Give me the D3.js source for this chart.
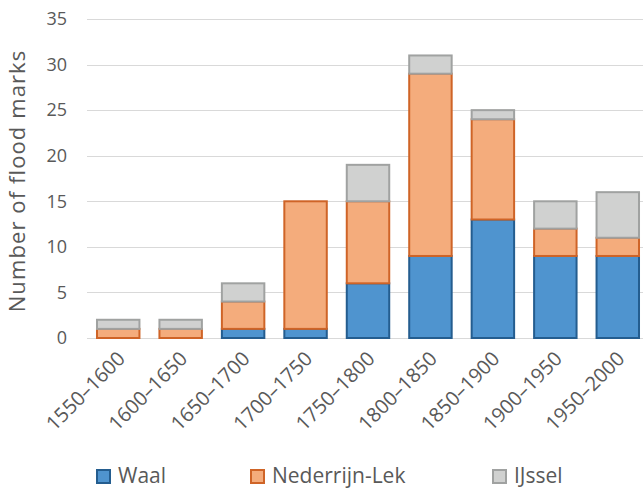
<!DOCTYPE html>
<html>
<head>
<meta charset="utf-8">
<script src="https://cdn.jsdelivr.net/npm/d3@7"></script>
<style>
  html, body { margin: 0; padding: 0; background: #fff; }
  svg text { font-family: "Open Sans", sans-serif; fill: #595959; }
</style>
</head>
<body>
<svg id="chart" width="643" height="488"></svg>
<script>
// Flood marks per 50-year period, by river branch
const periods = ["1550–1600", "1600–1650", "1650–1700", "1700–1750", "1750–1800",
                 "1800–1850", "1850–1900", "1900–1950", "1950–2000"];
const waal      = [0, 0, 1, 1, 6, 9, 13, 9, 9];
const nederrijn = [1, 1, 3, 14, 9, 20, 11, 3, 2];
const ijssel    = [1, 1, 2, 0, 4, 2, 1, 3, 5];
const seriesNames = ["Waal", "Nederrijn-Lek", "IJssel"];
const yTicks = [0, 5, 10, 15, 20, 25, 30, 35];

const fills   = ["#4f94cf", "#f4ac7c", "#d0d1d0"];
const strokes = ["#245d8f", "#cf6427", "#a0a2a1"];

const rows = periods.map((p, i) => ({
  period: p, "Waal": waal[i], "Nederrijn-Lek": nederrijn[i], "IJssel": ijssel[i]
}));

const svg = d3.select("#chart");

const x = d3.scaleBand().domain(periods).range([87, 649])
  .paddingInner(0.32).paddingOuter(0.16);
const y = d3.scaleLinear().domain([0, 35]).range([338, 19]);

// horizontal gridlines
svg.append("g").selectAll("line").data(yTicks).join("line")
  .attr("x1", 87).attr("x2", 643)
  .attr("y1", d => Math.round(y(d)) + 0.5).attr("y2", d => Math.round(y(d)) + 0.5)
  .attr("stroke", "#d9d9d9").attr("stroke-width", 1);

// y axis tick labels
const yAxis = d3.axisLeft(y).tickValues(yTicks).tickSize(0).tickPadding(0);
const gy = svg.append("g").attr("transform", "translate(67,0)").call(yAxis);
gy.select(".domain").remove();
gy.selectAll("text").attr("font-size", 18).attr("fill", "#595959")
  .style("font-family", "'Open Sans', sans-serif");

// stacked bars
const stack = d3.stack().keys(seriesNames);
const layers = stack(rows);
svg.append("g").selectAll("g").data(layers).join("g")
  .attr("fill", (d, i) => fills[i]).attr("stroke", (d, i) => strokes[i])
  .attr("stroke-width", 2)
  .selectAll("rect").data(d => d.filter(s => s[1] > s[0])).join("rect")
  .attr("x", d => x(d.data.period))
  .attr("width", x.bandwidth())
  .attr("y", d => y(d[1]))
  .attr("height", d => y(d[0]) - y(d[1]));

// x axis category labels, rotated
const xAxis = d3.axisBottom(x).tickSize(0).tickPadding(0);
const gx = svg.append("g").attr("transform", "translate(0,338)").call(xAxis);
gx.select(".domain").remove();
gx.selectAll("text")
  .attr("font-size", 20).attr("fill", "#595959")
  .style("font-family", "'Open Sans', sans-serif")
  .attr("text-anchor", "end").attr("dy", null).attr("y", 0)
  .attr("transform", "translate(8,22) rotate(-45)");

// y axis title
svg.append("text")
  .attr("transform", "translate(24.5,181) rotate(-90)")
  .attr("text-anchor", "middle")
  .attr("font-size", 22)
  .attr("letter-spacing", 1.1)
  .text("Number of flood marks");

// legend
const legendX = [97, 251, 493];
const lg = svg.append("g").selectAll("g").data(seriesNames).join("g")
  .attr("transform", (d, i) => `translate(${legendX[i]},470)`);
lg.append("rect").attr("width", 13).attr("height", 13)
  .attr("fill", (d, i) => fills[i]).attr("stroke", (d, i) => strokes[i]).attr("stroke-width", 2);
lg.append("text").attr("x", 21).attr("y", 13).attr("font-size", 21).text(d => d);
</script>
</body>
</html>
